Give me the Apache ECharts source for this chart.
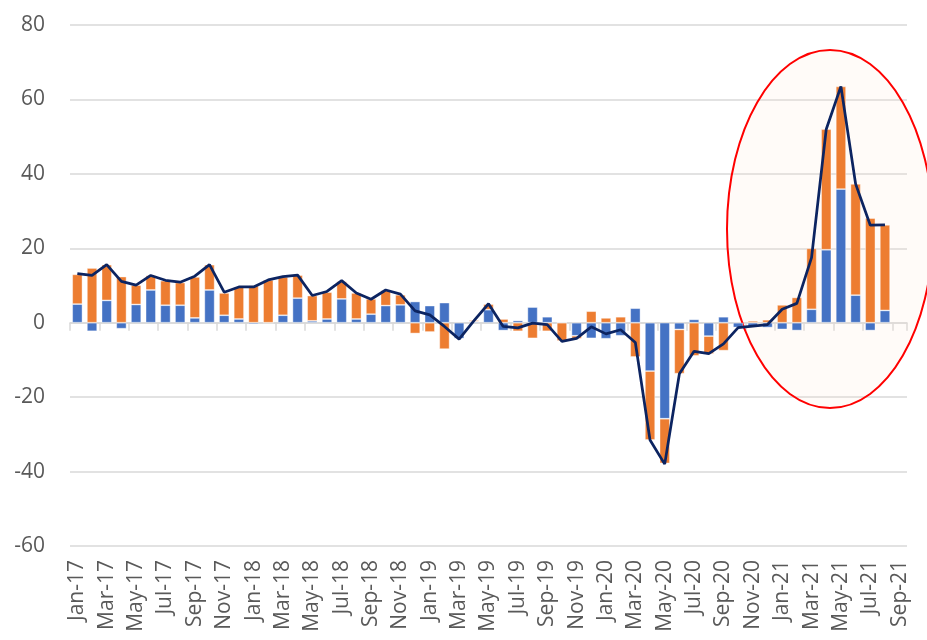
<html>
<head>
    <meta charset="utf-8">
    <title>ECharts</title>
    <script src="https://cdn.jsdelivr.net/npm/echarts@6.0.0/dist/echarts.min.js"></script>
</head>
<body style="margin:0">
<div id="main" style="width: 927px;height:640px;"></div>
<script type="text/javascript">
    // months Jan-17 .. Sep-21
    var months = ['Jan-17','Feb-17','Mar-17','Apr-17','May-17','Jun-17','Jul-17','Aug-17','Sep-17','Oct-17','Nov-17','Dec-17',
        'Jan-18','Feb-18','Mar-18','Apr-18','May-18','Jun-18','Jul-18','Aug-18','Sep-18','Oct-18','Nov-18','Dec-18',
        'Jan-19','Feb-19','Mar-19','Apr-19','May-19','Jun-19','Jul-19','Aug-19','Sep-19','Oct-19','Nov-19','Dec-19',
        'Jan-20','Feb-20','Mar-20','Apr-20','May-20','Jun-20','Jul-20','Aug-20','Sep-20','Oct-20','Nov-20','Dec-20',
        'Jan-21','Feb-21','Mar-21','Apr-21','May-21','Jun-21','Jul-21','Aug-21','Sep-21'];

    // blue part
    var blueVals = [5.0, -2.3, 6.0, -1.6, 4.9, 8.8, 4.7, 4.7, 1.3, 8.8, 2.0, 1.0,
        -0.4, 0, 2.0, 6.6, 0.5, 1.0, 6.4, 1.0, 2.3, 4.6, 4.8, 5.7,
        4.6, 5.4, -4.3, 0.3, 3.5, -2.1, 0.6, 4.2, 1.6, 0, -3.5, -4.2,
        -4.3, -3.5, 3.9, -13.0, -25.8, -1.8, 0.9, -3.6, 1.6, -1.3, -1.2, -1.3,
        -1.8, -2.1, 3.6, 19.6, 35.9, 7.4, -2.1, 3.3, null];

    // orange part
    var orangeVals = [8.0, 14.7, 9.6, 12.4, 5.2, 3.9, 6.6, 6.1, 11.0, 6.8, 6.0, 8.6,
        10.0, 11.5, 10.3, 6.2, 6.8, 7.2, 4.7, 7.0, 4.1, 4.1, 2.7, -2.9,
        -2.5, -7.1, 0, 0.4, 1.5, 1.0, -2.3, -4.2, -2.3, -4.9, -0.8, 3.1,
        1.3, 1.6, -9.2, -18.5, -12.0, -11.9, -8.9, -4.8, -7.5, 0, 0.5, 0.8,
        4.8, 6.8, 16.4, 32.4, 27.6, 29.9, 28.1, 23.0, null];

    // total line
    var totalVals = [13.2, 12.7, 15.6, 11.1, 10.1, 12.7, 11.4, 10.9, 12.5, 15.6, 8.2, 9.6,
        9.6, 11.5, 12.4, 12.8, 7.3, 8.4, 11.3, 8.0, 6.3, 8.8, 7.7, 3.2,
        2.1, -1.0, -4.4, 0.5, 5.1, -1.0, -1.4, -0.1, -0.5, -5.0, -4.2, -1.1,
        -3.0, -1.9, -5.3, -31.5, -38.0, -13.7, -7.7, -8.3, -5.7, -1.3, -0.9, -0.5,
        3.6, 5.2, 17.5, 52.0, 63.5, 37.3, 26.2, 26.3, null];

    var myChart = echarts.init(document.getElementById('main'));

    var gridColor = '#d9d9d9';
    var textColor = '#595959';

    var option = {
        animation: false,
        grid: { left: 70, right: 20, top: 25, bottom: 94 },
        xAxis: [{
            type: 'category',
            data: months,
            axisLine: { onZero: true, lineStyle: { color: gridColor, width: 1.5 } },
            axisTick: { show: true, interval: 1, length: 8, lineStyle: { color: gridColor, width: 1.5 } },
            axisLabel: { show: false }
        }, {
            type: 'category',
            data: months,
            position: 'bottom',
            axisLine: { show: false },
            axisTick: { show: false },
            axisLabel: {
                interval: 1,
                rotate: 90,
                margin: 14,
                color: textColor,
                fontFamily: 'Open Sans',
                fontSize: 21
            }
        }],
        yAxis: {
            type: 'value',
            min: -60,
            max: 80,
            interval: 20,
            axisLine: { show: false },
            axisTick: { show: false },
            splitLine: { lineStyle: { color: gridColor, width: 1.5 } },
            axisLabel: { color: textColor, fontFamily: 'Open Sans', fontSize: 21, margin: 25 }
        },
        graphic: [{
            type: 'ellipse',
            z: 1,
            shape: { cx: 830, cy: 229, rx: 103, ry: 179 },
            style: { fill: 'rgba(252,228,210,0.15)', stroke: '#ff0000', lineWidth: 2 }
        }],
        series: [{
            name: 'blue',
            type: 'bar',
            stack: 'parts',
            data: blueVals,
            barCategoryGap: '30%',
            itemStyle: { color: '#4472c4', borderColor: 'rgba(255,255,255,0.5)', borderWidth: 0.8 }
        }, {
            name: 'orange',
            type: 'bar',
            stack: 'parts',
            data: orangeVals,
            barCategoryGap: '30%',
            itemStyle: { color: '#ed7d31', borderColor: 'rgba(255,255,255,0.5)', borderWidth: 0.8 }
        }, {
            name: 'total',
            type: 'line',
            data: totalVals,
            symbol: 'none',
            z: 5,
            lineStyle: { color: '#0c2461', width: 2.75 }
        }]
    };

    myChart.setOption(option);
</script>
</body>
</html>
